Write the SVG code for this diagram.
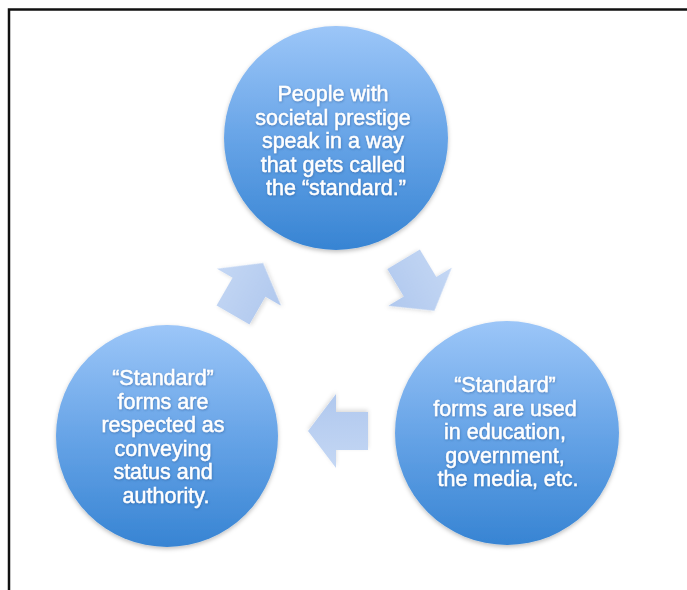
<svg xmlns="http://www.w3.org/2000/svg" width="687" height="590" viewBox="0 0 687 590">
  <defs>
    <linearGradient id="ballFill" x1="0" y1="0" x2="0" y2="1">
      <stop offset="0" stop-color="#9cc6f8"/>
      <stop offset="0.5" stop-color="#67a4e7"/>
      <stop offset="1" stop-color="#3784d3"/>
    </linearGradient>
    <linearGradient id="arrowFill" x1="0" y1="0" x2="0" y2="1">
      <stop offset="0" stop-color="#c4d7f4"/>
      <stop offset="1" stop-color="#b0c8ee"/>
    </linearGradient>
    <filter id="ballShadow" x="-20%" y="-20%" width="140%" height="140%">
      <feDropShadow dx="0" dy="2" stdDeviation="2" flood-color="#000" flood-opacity="0.25"/>
    </filter>
    <filter id="arrowShadow" x="-30%" y="-30%" width="160%" height="160%">
      <feGaussianBlur in="SourceGraphic" stdDeviation="0.6" result="soft"/>
      <feDropShadow in="soft" dx="0" dy="2" stdDeviation="2" flood-color="#000" flood-opacity="0.15"/>
    </filter>
    <filter id="textShadow" x="-10%" y="-20%" width="120%" height="140%">
      <feDropShadow dx="0.5" dy="1" stdDeviation="0.8" flood-color="#1f4f8a" flood-opacity="0.5"/>
    </filter>
    <!-- block arrow pointing along +x, centred on the origin -->
    <polygon id="blockArrow" points="-30,-19 2,-19 2,-37 30,0 2,37 2,19 -30,19"/>
    <style>
      .ball { fill: url(#ballFill); filter: url(#ballShadow); }
      .label { font-family: "Liberation Sans", Arial, sans-serif; font-size: 21.5px; fill: #ffffff; stroke: #ffffff; stroke-width: 0.45px; text-anchor: middle; filter: url(#textShadow); }
      .arrow { fill: url(#arrowFill); filter: url(#arrowShadow); }
    </style>
  </defs>

  <rect x="0" y="0" width="687" height="590" fill="#ffffff"/>
  <!-- frame -->
  <rect x="9" y="9.5" width="700" height="600" fill="none" stroke="#111111" stroke-width="2.5"/>

  <g id="connectors">
    <use href="#blockArrow" class="arrow" transform="translate(419,285) rotate(59)"/>
    <use href="#blockArrow" class="arrow" transform="translate(338,431) rotate(180)"/>
    <use href="#blockArrow" class="arrow" transform="translate(248,289) rotate(-60)"/>
  </g>

  <g id="node-prestige">
    <circle class="ball" cx="336" cy="138" r="112"/>
    <text class="label">
      <tspan x="336" y="101">People with</tspan>
      <tspan x="336" y="124.5">societal prestige</tspan>
      <tspan x="336" y="148">speak in a way</tspan>
      <tspan x="336" y="171.5">that gets called</tspan>
      <tspan x="336" y="195">the “standard.”</tspan>
    </text>
  </g>

  <g id="node-institutions">
    <circle class="ball" cx="507" cy="433" r="112"/>
    <text class="label">
      <tspan x="508" y="392">“Standard”</tspan>
      <tspan x="508" y="415.5">forms are used</tspan>
      <tspan x="508" y="439">in education,</tspan>
      <tspan x="508" y="462.5">government,</tspan>
      <tspan x="508" y="486">the media, etc.</tspan>
    </text>
  </g>

  <g id="node-respect">
    <circle class="ball" cx="167" cy="436" r="111"/>
    <text class="label">
      <tspan x="166" y="385">“Standard”</tspan>
      <tspan x="166" y="408.5">forms are</tspan>
      <tspan x="166" y="432">respected as</tspan>
      <tspan x="166" y="455.5">conveying</tspan>
      <tspan x="166" y="479">status and</tspan>
      <tspan x="166" y="502.5">authority.</tspan>
    </text>
  </g>
</svg>
